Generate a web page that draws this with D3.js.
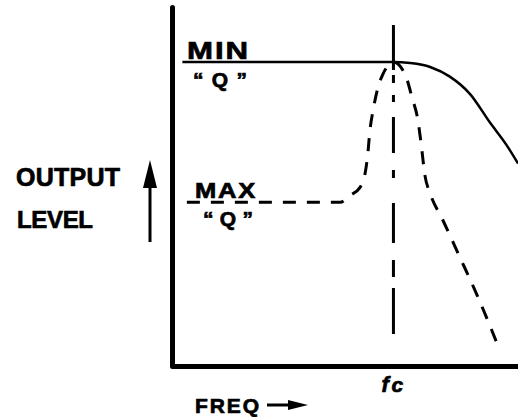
<!DOCTYPE html>
<html>
<head>
<meta charset="utf-8">
<script src="https://cdn.jsdelivr.net/npm/d3@7"></script>
<style>
  body { margin: 0; background: #fff; }
  svg { display: block; }
  text { font-family: "Liberation Sans", Arial, sans-serif; font-weight: bold; fill: #000;
         stroke: #000; stroke-width: 0.7px; }
</style>
</head>
<body>
<div id="chart"></div>
<script>
// frequency (0-100, relative) and output level (0-100, relative)
const fc = 64;

const minQFreq  = [3, 63.9, 68.8, 74.6, 80.3, 86.1, 91.9, 96.8, 100];
const minQLevel = [84.7, 84.7, 84.4, 83.3, 80.6, 75.8, 67.8, 61.4, 56.4];

const maxQFreq  = [4.3, 48.6, 51.4, 54.3, 55.8, 56.6, 57.2, 58.1, 59.5, 61.0, 63.0, 63.9,
                   67.3, 69.4, 71.1, 72.0, 73.1, 74.6, 78.3, 83.2, 88.2, 93.9];
const maxQLevel = [45.6, 45.6, 47.5, 49.7, 53.6, 59.2, 65.6, 71.1, 77.5, 81.4, 84.2, 84.7,
                   81.4, 74.7, 68.3, 61.9, 53.1, 48.1, 40.6, 30.3, 19.7, 6.4];

const width = 518, height = 417;

const svg = d3.select("#chart").append("svg")
    .attr("width", width)
    .attr("height", height);

const x = d3.scaleLinear().domain([0, 100]).range([172, 518]);
const y = d3.scaleLinear().domain([0, 100]).range([366, 7]);

// axes: just the heavy frame lines, no ticks
const yAxis = svg.append("g")
    .attr("transform", `translate(${x(0)},0)`)
    .call(d3.axisLeft(y).ticks(0).tickSizeOuter(0));
const xAxis = svg.append("g")
    .attr("transform", `translate(0,${y(0)})`)
    .call(d3.axisBottom(x).ticks(0).tickSizeOuter(0));
[yAxis, xAxis].forEach(a => {
    a.select(".domain")
        .attr("stroke", "#000")
        .attr("stroke-width", 5)
        .attr("stroke-linecap", "round");
});
xAxis.select(".domain").attr("stroke-linecap", "butt");

const line = d3.line()
    .x(d => x(d[0]))
    .y(d => y(d[1]))
    .curve(d3.curveMonotoneX);

// fc marker: solid tick above, dashed below
svg.append("line")
    .attr("x1", x(fc)).attr("x2", x(fc))
    .attr("y1", 25).attr("y2", 70)
    .attr("stroke", "#000").attr("stroke-width", 3);
svg.append("line")
    .attr("x1", x(fc)).attr("x2", x(fc))
    .attr("y1", 70).attr("y2", 334)
    .attr("stroke", "#000").attr("stroke-width", 3)
    .attr("stroke-dasharray", "0,5,8,12,7,15,36,17,8,25,40,17,17,11,45");

// min Q (solid)
svg.append("path")
    .datum(minQFreq.map((f, i) => [f, minQLevel[i]]))
    .attr("d", line)
    .attr("fill", "none")
    .attr("stroke", "#000")
    .attr("stroke-width", 2.5);

// max Q (dashed)
svg.append("path")
    .datum(maxQFreq.map((f, i) => [f, maxQLevel[i]]))
    .attr("d", line)
    .attr("fill", "none")
    .attr("stroke", "#000")
    .attr("stroke-width", 3)
    .attr("stroke-dasharray", "13,11");

// labels
const lab = (txt, tx, ty, size, len, adj) => {
    const t = svg.append("text")
        .attr("x", tx).attr("y", ty)
        .attr("font-size", size)
        .text(txt);
    if (len) t.attr("textLength", len).attr("lengthAdjust", adj || "spacing");
    return t;
};

lab("MIN", 187, y(minQLevel[0]) - 3, 24, 63, "spacingAndGlyphs").attr("letter-spacing", 1.5);
lab("\u201CQ\u201D", 193, y(minQLevel[0]) + 25, 21, 54);
lab("MAX", 195, y(maxQLevel[0]) - 4, 22, 62, "spacingAndGlyphs").attr("letter-spacing", 1.5);
lab("\u201CQ\u201D", 203, y(maxQLevel[0]) + 24, 21, 50);

lab("OUTPUT", 16, 186, 25, 104);
lab("LEVEL", 17, 228, 24, 76);

lab("f", x(fc) - 12, 392, 22).attr("font-style", "italic");
lab("c", x(fc) - 2, 392, 21).attr("font-style", "italic");

lab("FREQ", 195, 413, 21, 64);

// up arrow
svg.append("line")
    .attr("x1", 150).attr("x2", 150)
    .attr("y1", 242).attr("y2", 180)
    .attr("stroke", "#000").attr("stroke-width", 3);
svg.append("path")
    .attr("d", "M143,188 L150,160 L157,188 Z")
    .attr("fill", "#000");

// right arrow next to FREQ
svg.append("line")
    .attr("x1", 267).attr("x2", 296)
    .attr("y1", 405).attr("y2", 405)
    .attr("stroke", "#000").attr("stroke-width", 3);
svg.append("path")
    .attr("d", "M288,400 L308,405 L288,410 Z")
    .attr("fill", "#000");
</script>
</body>
</html>
